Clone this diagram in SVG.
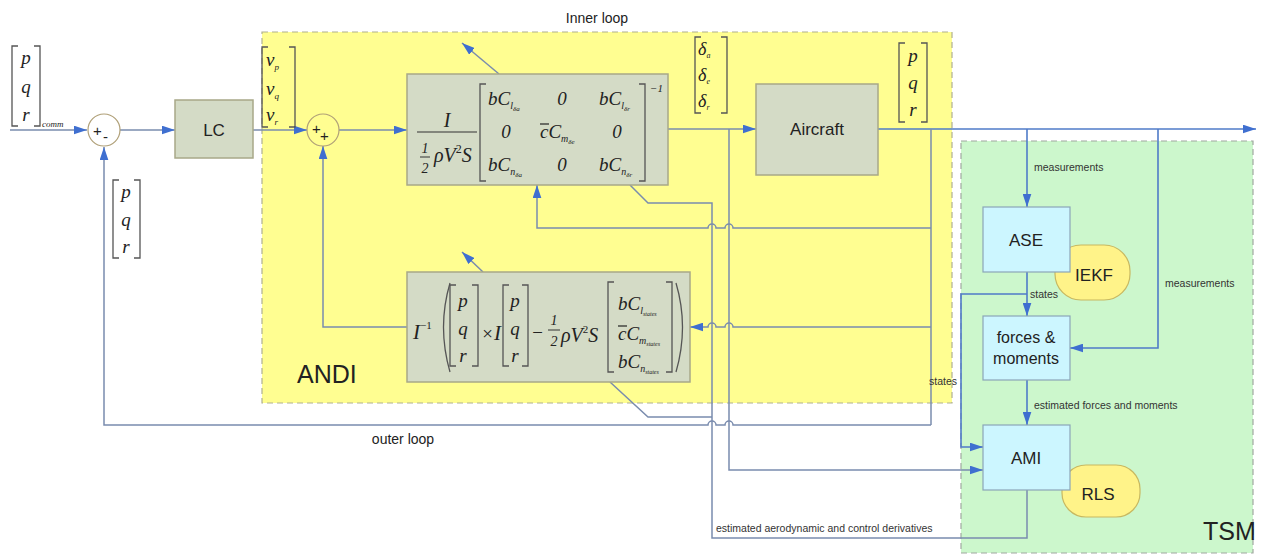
<svg xmlns="http://www.w3.org/2000/svg" width="1262" height="556" viewBox="0 0 1262 556">
<defs>
<marker id="arr" viewBox="0 0 12 8" refX="12" refY="4" markerWidth="13" markerHeight="9" markerUnits="userSpaceOnUse" orient="auto"><path d="M0,0 L12,4 L0,8 z" fill="#3F6FD0"/></marker>
</defs>
<style>
.ln{fill:none;stroke:#7A8CAE;stroke-width:1.5}
.bl{fill:none;stroke:#4F7BC8;stroke-width:1.6}
.gb{fill:#D4DBC6;stroke:#A8A888;stroke-width:1.5}
.cb{fill:#CCF6FF;stroke:#8AA6B8;stroke-width:1.2}
.yb{fill:#FFF389;stroke:#C8B860;stroke-width:1.2}
.br{fill:none;stroke:#555;stroke-width:1.3}
.m{font-family:"Liberation Serif",serif;font-style:italic;fill:#222}
.s{font-family:"Liberation Sans",Arial,sans-serif;fill:#222}
.lab{font-family:"Liberation Sans",Arial,sans-serif;font-size:10.5px;fill:#333}
.sum{fill:none;stroke:#B0A078;stroke-width:1.2}
</style>
<rect id="andi" x="262" y="32" width="690" height="371" fill="#FFFE91" stroke="#B0B090" stroke-width="1.2" stroke-dasharray="6,4"/>
<rect id="tsm" x="961" y="141" width="292" height="412" fill="#CCF7CC" stroke="#A0A8A0" stroke-width="1.2" stroke-dasharray="6,4"/>
<text class="s" x="297" y="383" font-size="25">ANDI</text>
<text class="s" x="1203" y="540" font-size="25">TSM</text>
<text class="s" x="597" y="23" font-size="14" text-anchor="middle">Inner loop</text>
<text class="s" x="403" y="444" font-size="14" text-anchor="middle">outer loop</text>

<g id="connectors">
<path class="ln" d="M10,130 H87" marker-end="url(#arr)"/>
<path class="ln" d="M120,130 H175" marker-end="url(#arr)"/>
<path class="ln" d="M253,130 H307" marker-end="url(#arr)"/>
<path class="ln" d="M339,130 H407" marker-end="url(#arr)"/>
<path class="ln" d="M668,129 H756" marker-end="url(#arr)"/>
<path class="bl" d="M878,129 H1256" marker-end="url(#arr)"/>
<path class="ln" d="M499,74 L462,43" marker-end="url(#arr)"/>
<path class="ln" d="M483,272 L462,252" marker-end="url(#arr)"/>
<path class="ln" d="M407,327 H323 V146" marker-end="url(#arr)"/>
<path class="ln" d="M931,129 V425"/>
<path class="ln" d="M931,228 H733 a4,4 0 0 0 -8,0 H716 a4,4 0 0 0 -8,0 H537 V185" marker-end="url(#arr)"/>
<path class="ln" d="M931,327 H733 a4,4 0 0 0 -8,0 H716 a4,4 0 0 0 -8,0 H690" marker-end="url(#arr)"/>
<path class="ln" d="M931,425 H733 a4,4 0 0 0 -8,0 H716 a4,4 0 0 0 -8,0 H104 V147" marker-end="url(#arr)"/>
<path class="ln" d="M729,129 V470 H983" marker-end="url(#arr)"/>
<path class="ln" d="M630,185 L648,203 H712 V538 H1027 V490"/>
<path class="ln" d="M610,382 L648,417 H712"/>
<path class="bl" d="M1027,129 V207" marker-end="url(#arr)"/>
<path class="bl" d="M1158,129 V348 H1070" marker-end="url(#arr)"/>
<path class="bl" d="M1027,272 V316" marker-end="url(#arr)"/>
<path class="bl" d="M1027,294 H961 V447 H983" marker-end="url(#arr)"/>
<path class="bl" d="M1027,380 V425" marker-end="url(#arr)"/>
</g>

<text class="lab" x="1034" y="171">measurements</text>
<text class="lab" x="1165" y="287">measurements</text>
<text class="lab" x="957" y="385" text-anchor="end">states</text>
<text class="lab" x="1034" y="409">estimated forces and moments</text>
<text class="lab" x="716" y="532">estimated aerodynamic and control derivatives</text>

<g id="sum1">
<circle class="sum" cx="104" cy="130" r="16" fill="#FFFFF4"/>
<text class="s" x="93" y="136" font-size="15">+</text>
<text class="s" x="103" y="142" font-size="15">-</text>
</g>
<g id="sum2">
<circle class="sum" cx="323" cy="130" r="16"/>
<text class="s" x="312" y="134" font-size="15">+</text>
<text class="s" x="320" y="141" font-size="15">+</text>
</g>

<g id="vec-comm">
<path class="br" d="M18,46 H12 V126 H18 M34,46 H40 V126 H34"/>
<text class="m" font-size="19" x="26" y="64" text-anchor="middle">p</text>
<text class="m" font-size="19" x="26" y="93" text-anchor="middle">q</text>
<text class="m" font-size="19" x="26" y="121" text-anchor="middle">r</text>
<text class="m" font-size="9" x="42" y="127">comm</text>
</g>
<g id="vec-fb">
<path class="br" d="M119,180 H113 V258 H119 M134,180 H140 V258 H134"/>
<text class="m" font-size="19" x="126" y="198" text-anchor="middle">p</text>
<text class="m" font-size="19" x="126" y="226" text-anchor="middle">q</text>
<text class="m" font-size="19" x="126" y="253" text-anchor="middle">r</text>
</g>
<g id="vec-nu">
<path class="br" d="M268,47 H262 V127 H268 M289,47 H295 V127 H289"/>
<text class="m" font-size="19" x="266" y="66">ν<tspan font-size="9" dy="4">p</tspan></text>
<text class="m" font-size="19" x="266" y="95">ν<tspan font-size="9" dy="4">q</tspan></text>
<text class="m" font-size="19" x="266" y="121">ν<tspan font-size="9" dy="4">r</tspan></text>
</g>
<g id="vec-delta">
<path class="br" d="M701,37 H695 V113 H701 M721,37 H727 V113 H721"/>
<text class="m" font-size="18" x="698" y="55">δ<tspan font-size="8" dy="3">a</tspan></text>
<text class="m" font-size="18" x="698" y="81">δ<tspan font-size="8" dy="3">e</tspan></text>
<text class="m" font-size="18" x="698" y="107">δ<tspan font-size="8" dy="3">r</tspan></text>
</g>
<g id="vec-out">
<path class="br" d="M905,43 H899 V122 H905 M921,43 H927 V122 H921"/>
<text class="m" font-size="19" x="913" y="62" text-anchor="middle">p</text>
<text class="m" font-size="19" x="913" y="89" text-anchor="middle">q</text>
<text class="m" font-size="19" x="913" y="116" text-anchor="middle">r</text>
</g>

<g id="lc">
<rect class="gb" x="175" y="100" width="78" height="58"/>
<text class="s" x="214" y="136" font-size="17" text-anchor="middle">LC</text>
</g>

<g id="aircraft">
<rect class="gb" x="756" y="84" width="122" height="91"/>
<text class="s" x="817" y="135" font-size="17" text-anchor="middle">Aircraft</text>
</g>

<g id="inner-block">
<rect class="gb" x="407" y="74" width="261" height="111"/>
<text class="m" font-size="20" x="447" y="127" text-anchor="middle">I</text>
<line x1="417" y1="132" x2="477" y2="132" stroke="#333" stroke-width="1.2"/>
<text class="m" font-size="14" x="425" y="153" text-anchor="middle" font-style="normal">1</text>
<line x1="420" y1="157" x2="430" y2="157" stroke="#333" stroke-width="1"/>
<text class="m" font-size="14" x="425" y="173" text-anchor="middle" font-style="normal">2</text>
<text class="m" font-size="20" x="434" y="162">ρV<tspan font-size="12" dy="-9" font-style="normal">2</tspan><tspan dy="9">S</tspan></text>
<path class="br" d="M486,84 H480 V181 H486 M639,84 H645 V181 H639"/>
<text class="m" font-size="11" x="650" y="92" font-style="normal">−1</text>
<text class="m" font-size="19" x="488" y="105">bC<tspan font-size="10" dy="4">l</tspan><tspan font-size="7" dy="2">δa</tspan></text>
<text class="m" font-size="19" x="562" y="105" text-anchor="middle" font-style="normal">0</text>
<text class="m" font-size="19" x="599" y="105">bC<tspan font-size="10" dy="4">l</tspan><tspan font-size="7" dy="2">δr</tspan></text>
<text class="m" font-size="19" x="506" y="138" text-anchor="middle" font-style="normal">0</text>
<text class="m" font-size="19" x="540" y="138">cC<tspan font-size="10" dy="4">m</tspan><tspan font-size="7" dy="2">δe</tspan></text>
<line x1="540" y1="124" x2="549" y2="124" stroke="#222" stroke-width="1.2"/>
<text class="m" font-size="19" x="617" y="138" text-anchor="middle" font-style="normal">0</text>
<text class="m" font-size="19" x="488" y="171">bC<tspan font-size="10" dy="4">n</tspan><tspan font-size="7" dy="2">δa</tspan></text>
<text class="m" font-size="19" x="562" y="171" text-anchor="middle" font-style="normal">0</text>
<text class="m" font-size="19" x="599" y="171">bC<tspan font-size="10" dy="4">n</tspan><tspan font-size="7" dy="2">δr</tspan></text>
</g>

<g id="outer-block">
<rect class="gb" x="407" y="272" width="283" height="110"/>
<text class="m" font-size="21" x="413" y="339">I<tspan font-size="11" dy="-10" font-style="normal">−1</tspan></text>
<path class="br" d="M450,283 Q437,327 450,372 M676,283 Q689,327 676,372"/>
<path class="br" d="M456,285 H450 V366 H456 M472,285 H478 V366 H472"/>
<text class="m" font-size="19" x="463" y="307" text-anchor="middle">p</text>
<text class="m" font-size="19" x="463" y="335" text-anchor="middle">q</text>
<text class="m" font-size="19" x="463" y="362" text-anchor="middle">r</text>
<text class="m" font-size="19" x="481" y="340" font-style="normal">×</text>
<text class="m" font-size="21" x="494" y="340">I</text>
<path class="br" d="M509,285 H503 V366 H509 M522,285 H528 V366 H522"/>
<text class="m" font-size="19" x="515" y="307" text-anchor="middle">p</text>
<text class="m" font-size="19" x="515" y="335" text-anchor="middle">q</text>
<text class="m" font-size="19" x="515" y="362" text-anchor="middle">r</text>
<text class="m" font-size="19" x="531" y="339" font-style="normal">−</text>
<text class="m" font-size="14" x="554" y="325" text-anchor="middle" font-style="normal">1</text>
<line x1="548" y1="330" x2="560" y2="330" stroke="#333" stroke-width="1"/>
<text class="m" font-size="14" x="554" y="346" text-anchor="middle" font-style="normal">2</text>
<text class="m" font-size="20" x="561" y="342">ρV<tspan font-size="11" dy="-9" font-style="normal">2</tspan><tspan dy="9">S</tspan></text>
<path class="br" d="M614,282 H608 V372 H614 M666,282 H672 V372 H666"/>
<text class="m" font-size="19" x="618" y="310">bC<tspan font-size="10" dy="4">l</tspan><tspan font-size="6" dy="2">states</tspan></text>
<text class="m" font-size="19" x="618" y="340">cC<tspan font-size="10" dy="4">m</tspan><tspan font-size="6" dy="2">states</tspan></text>
<line x1="618" y1="326" x2="627" y2="326" stroke="#222" stroke-width="1.2"/>
<text class="m" font-size="19" x="618" y="368">bC<tspan font-size="10" dy="4">n</tspan><tspan font-size="6" dy="2">states</tspan></text>
</g>

<g id="iekf">
<rect class="yb" x="1055" y="245" width="75" height="55" rx="26" ry="26"/>
<text class="s" x="1094" y="281" font-size="17" text-anchor="middle">IEKF</text>
</g>
<g id="ase">
<rect class="cb" x="983" y="207" width="87" height="65"/>
<text class="s" x="1026" y="246" font-size="17" text-anchor="middle">ASE</text>
</g>
<text class="lab" x="1030" y="298">states</text>
<g id="forces">
<rect class="cb" x="983" y="316" width="87" height="64"/>
<text class="s" x="1026" y="343" font-size="16" text-anchor="middle">forces &amp;</text>
<text class="s" x="1026" y="364" font-size="16" text-anchor="middle">moments</text>
</g>
<g id="rls">
<rect class="yb" x="1062" y="465" width="78" height="52" rx="24" ry="24"/>
<text class="s" x="1098" y="500" font-size="17" text-anchor="middle">RLS</text>
</g>
<g id="ami">
<rect class="cb" x="983" y="425" width="87" height="65"/>
<text class="s" x="1026" y="464" font-size="17" text-anchor="middle">AMI</text>
</g>
</svg>
